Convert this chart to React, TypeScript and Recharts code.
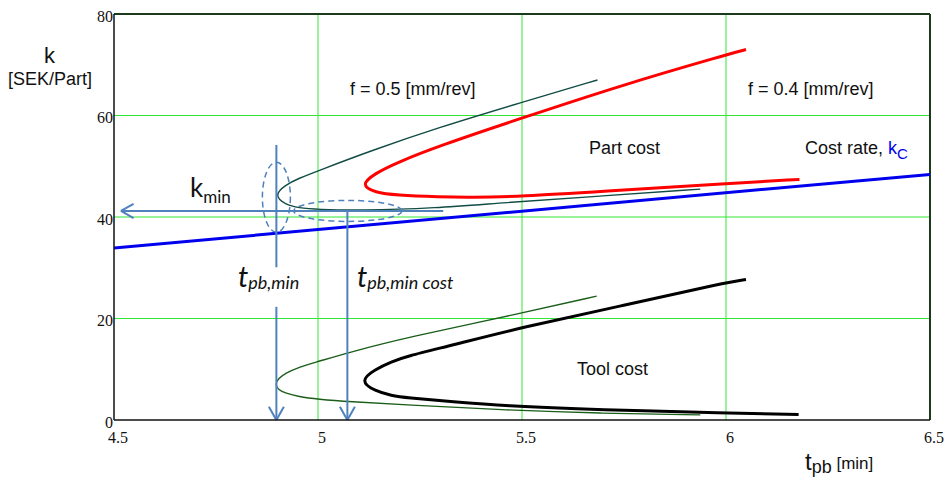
import React from "react";
import {
  LineChart,
  Line,
  XAxis,
  YAxis,
  CartesianGrid,
  ReferenceLine,
  ReferenceDot,
} from "recharts";

// axis ticks
const xTicks = [4.5, 5, 5.5, 6, 6.5];
const yTicks = [0, 20, 40, 60, 80];

// part cost, f = 0.4 (red) - upper end -> vertex -> lower end
const partCost04T = [6.049, 5.998, 5.745, 5.5, 5.296, 5.19, 5.14, 5.104, 5.14, 5.19, 5.3, 5.37, 5.5, 5.69, 6.0, 6.18];
const partCost04K = [73.0, 71.9, 66.0, 59.5, 54.0, 50.6, 48.6, 46.3, 44.8, 44.3, 43.95, 43.85, 44.05, 45.0, 46.6, 47.4];

// part cost, f = 0.5 (thin dark green)
const partCost05T = [5.685, 5.5, 5.29, 5.128, 5.0, 4.952, 4.92, 4.892, 4.92, 4.952, 5.0, 5.1, 5.29, 5.45, 5.69, 5.937];
const partCost05K = [67.0, 62.6, 57.5, 53.0, 49.1, 47.6, 46.3, 44.3, 42.4, 41.8, 41.5, 41.25, 41.75, 42.8, 44.1, 45.5];

// tool cost, f = 0.4 (black)
const toolCost04T = [6.049, 6.0, 5.75, 5.496, 5.332, 5.214, 5.181, 5.14, 5.102, 5.14, 5.181, 5.214, 5.332, 5.45, 5.692, 6.0, 6.178];
const toolCost04K = [27.7, 27.1, 22.6, 18.2, 14.8, 12.5, 11.5, 10.0, 7.7, 5.7, 4.8, 4.4, 3.6, 2.8, 2.0, 1.4, 1.1];

// tool cost, f = 0.5 (thin green)
const toolCost05T = [5.683, 5.496, 5.214, 5.075, 5.0, 4.952, 4.92, 4.903, 4.895, 4.903, 4.92, 4.952, 5.0, 5.075, 5.214, 5.45, 5.692, 5.937];
const toolCost05K = [24.4, 21.0, 16.2, 13.3, 11.5, 10.4, 9.2, 8.2, 7.05, 5.9, 5.3, 4.6, 4.1, 3.6, 3.0, 2.0, 1.3, 1.0];

// cost rate k_C (blue)
const costRateT = [4.5, 6.5];
const costRateK = [33.9, 48.4];

// optimum markers
const tMin = 4.898;
const tMinCost = 5.072;
const kMin = 41.2;

const toPoints = (t: number[], k: number[]) => t.map((v, i) => ({ t: v, k: k[i] }));

const ANNO = "#4f81bd";
const GRID = "#33e633";

const ellipse = (rx: number, ry: number) => (p: any) => (
  <ellipse
    cx={p.cx}
    cy={p.cy}
    rx={rx}
    ry={ry}
    fill="none"
    stroke={ANNO}
    strokeWidth={1.5}
    strokeDasharray="6 4"
  />
);

const seg = (x1: number, y1: number, x2: number, y2: number, key: string) => (
  <ReferenceLine
    key={key}
    segment={[{ x: x1, y: y1 }, { x: x2, y: y2 }]}
    stroke={ANNO}
    strokeWidth={2}
  />
);

// the cost curves are sideways parabolas, so the points follow the path and a
// B-spline smooths them (the x axis is numeric, order comes from the data)
const curve = (t: number[], k: number[], stroke: string, width: number) => (
  <Line
    data={toPoints(t, k)}
    dataKey="k"
    type="basis"
    stroke={stroke}
    strokeWidth={width}
    dot={false}
    activeDot={false}
    isAnimationActive={false}
  />
);

export default function App() {
  const sans = "'Liberation Sans', Arial, sans-serif";
  const calibri = "Lato, 'Open Sans', sans-serif";
  const tickStyle = { fontFamily: "'Liberation Serif', 'Times New Roman', serif", fontSize: 16, fill: "#111" };

  return (
    <div style={{ position: "absolute", left: 0, top: 0, width: 948, height: 481, background: "#fff" }}>
      <LineChart width={948} height={481} margin={{ top: 14, right: 18, bottom: 31, left: 54 }}>
        <CartesianGrid stroke={GRID} strokeWidth={1} horizontalValues={[20, 40, 60]} verticalValues={[5, 5.5, 6]} />
        <XAxis
          dataKey="t"
          type="number"
          domain={[4.5, 6.5]}
          ticks={xTicks}
          allowDataOverflow
          height={30}
          tickLine={false}
          tickSize={0}
          tickMargin={12}
          tick={{ ...tickStyle, dx: 4 }}
          axisLine={{ stroke: "#111", strokeWidth: 1.5 }}
        />
        <YAxis
          dataKey="k"
          type="number"
          domain={[0, 80]}
          ticks={yTicks}
          allowDataOverflow
          width={60}
          tickLine={false}
          tickSize={0}
          tickMargin={1}
          tick={{ ...tickStyle, dy: 2 }}
          axisLine={{ stroke: "#111", strokeWidth: 1.5 }}
        />
        <ReferenceLine y={80} stroke="#1c3a1c" strokeWidth={2} />
        <ReferenceLine x={6.5} stroke="#1c3a1c" strokeWidth={2} />

        <Line data={toPoints(costRateT, costRateK)} dataKey="k" type="linear" stroke="#0000ee" strokeWidth={3} dot={false} activeDot={false} isAnimationActive={false} />
        {curve(partCost05T, partCost05K, "#114c44", 1.4)}
        {curve(toolCost05T, toolCost05K, "#1a5e1a", 1.4)}
        {curve(partCost04T, partCost04K, "#ff0000", 3)}
        {curve(toolCost04T, toolCost04K, "#000", 3)}

        {/* t_pb,min marker: vertical line broken for its label, arrow to the axis */}
        {seg(tMin, 54.2, tMin, 30.1, "v1a")}
        {seg(tMin, 22.3, tMin, 0, "v1b")}
        {seg(tMin - 0.0184, 2.6, tMin, 0, "v1l")}
        {seg(tMin + 0.0184, 2.6, tMin, 0, "v1r")}
        {/* t_pb,min cost marker */}
        {seg(tMinCost, kMin, tMinCost, 0, "v2")}
        {seg(tMinCost - 0.0184, 2.6, tMinCost, 0, "v2l")}
        {seg(tMinCost + 0.0184, 2.6, tMinCost, 0, "v2r")}
        {/* k_min arrow to the y axis */}
        {seg(5.307, kMin, 4.517, kMin, "h")}
        {seg(4.548, kMin + 1.4, 4.517, kMin, "hu")}
        {seg(4.548, kMin - 1.4, 4.517, kMin, "hd")}

        <ReferenceDot x={tMin} y={43.9} r={1} shape={ellipse(14, 35)} />
        <ReferenceDot x={5.073} y={kMin} r={1} shape={ellipse(54, 10.5)} />
      </LineChart>

      <svg width={948} height={481} style={{ position: "absolute", left: 0, top: 0, pointerEvents: "none" }}>
        <g fontFamily={sans} fill="#111">
          <text x={44} y={63} fontSize={22}>k</text>
          <text x={8} y={85} fontSize={18}>[SEK/Part]</text>
          <text x={350} y={95} fontSize={18}>f = 0.5 [mm/rev]</text>
          <text x={748} y={95} fontSize={18}>f = 0.4 [mm/rev]</text>
          <text x={589} y={154} fontSize={18}>Part cost</text>
          <text x={805} y={154} fontSize={18}>
            Cost rate,{" "}
            <tspan fill="#0000ee">k</tspan>
            <tspan fill="#0000ee" fontSize={15} dy={5}>C</tspan>
          </text>
          <text x={577} y={375} fontSize={18}>Tool cost</text>
          <text x={805} y={470} fontSize={24}>
            t<tspan fontSize={18} dy={3}>pb</tspan>
            <tspan fontSize={17} dy={-4}> [min]</tspan>
          </text>
        </g>
        <g fontFamily={calibri} fill="#111">
          <text x={190} y={197} fontSize={26}>
            k<tspan fontSize={17} dy={6}>min</tspan>
          </text>
          <text x={238} y={287} fontSize={29} fontStyle="italic">
            t<tspan fontSize={18} dy={2}>pb,min</tspan>
          </text>
          <text x={357} y={287} fontSize={29} fontStyle="italic">
            t<tspan fontSize={18} dy={2}>pb,min cost</tspan>
          </text>
        </g>
      </svg>
    </div>
  );
}
